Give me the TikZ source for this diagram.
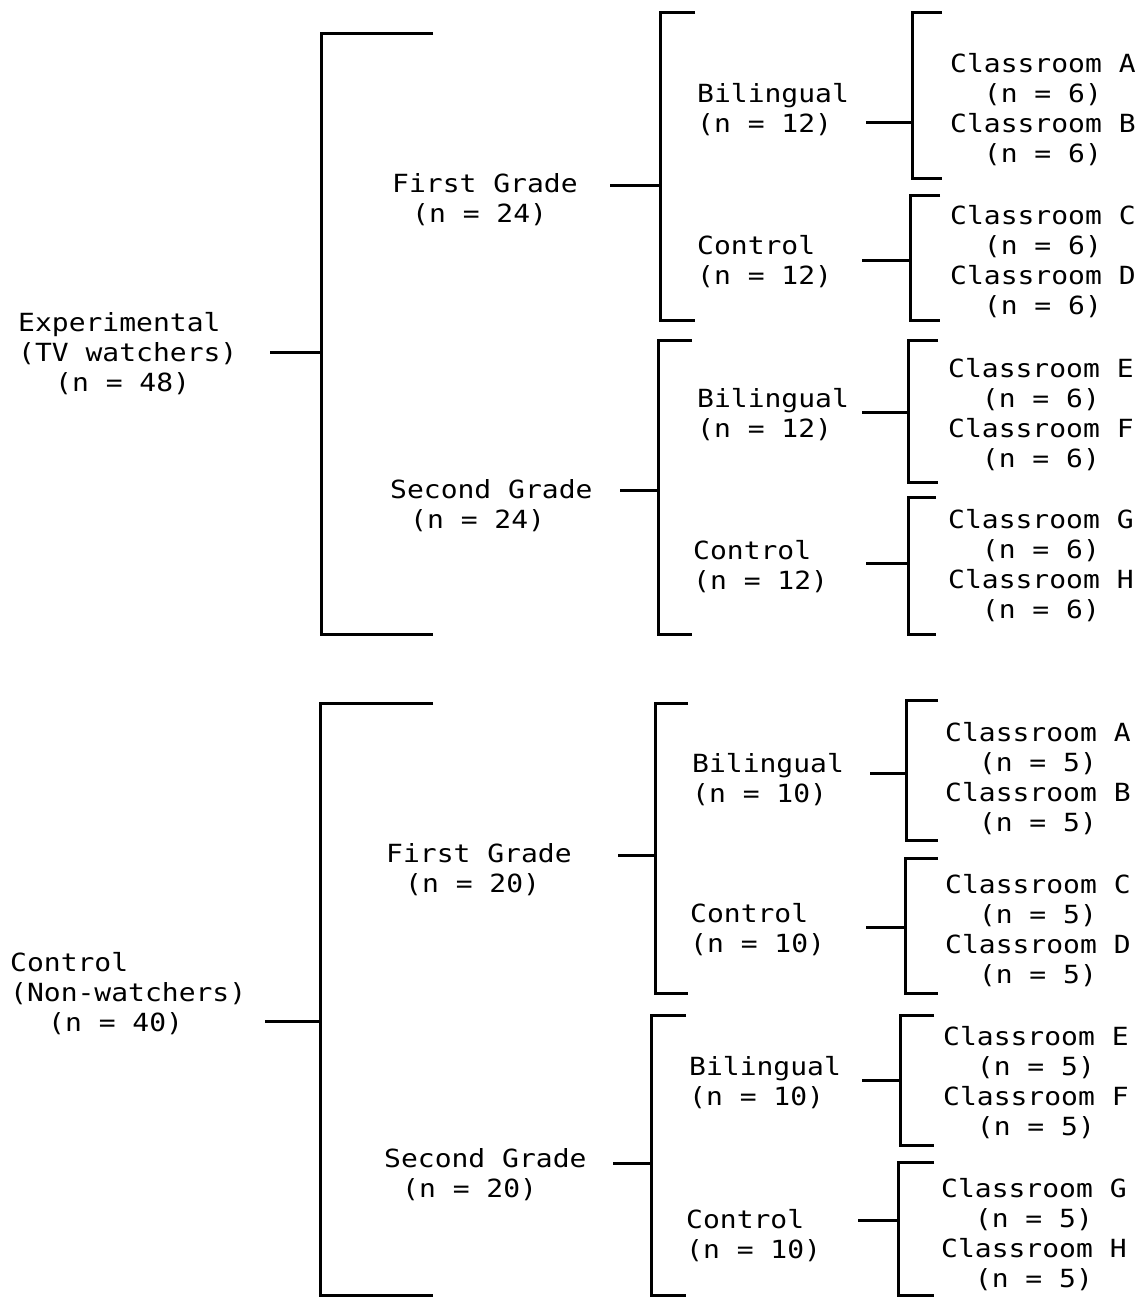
\documentclass[tikz,border=0pt]{standalone}
\usepackage{fontspec}
\newfontfamily\plotfont[FakeStretch=1.12]{DejaVu Sans Mono}
\newcommand\drawbracket[4]{\draw[brkline] (#4,#2) -- (#1,#2) -- (#1,#3) -- (#4,#3);}
\begin{document}
\begin{tikzpicture}[x=1pt,y=-1pt,
  lbl/.style={font=\plotfont\fontsize{25}{30}\selectfont, align=left, inner sep=0pt, anchor=west},
  cls/.style={lbl, align=center},
  brkline/.style={line width=3pt, line join=miter},
  stem/.style={line width=3pt}]
\useasboundingbox[fill=white] (0,0) rectangle (1143,1299);

% ===================== Experimental group =====================
\node[lbl] (exp) at (18,354) {Experimental\\(TV watchers)\\\hspace*{37pt}(n = 48)};
\node[lbl] (fg1) at (392,200) {First Grade\\\hspace*{20pt}(n = 24)};
\node[lbl] (sg1) at (390,506) {Second Grade\\\hspace*{20pt}(n = 24)};
\node[lbl] (bil1) at (697,110) {Bilingual\\(n = 12)};
\node[lbl] (con1) at (697,262) {Control\\(n = 12)};
\node[lbl] (bil2) at (697,415) {Bilingual\\(n = 12)};
\node[lbl] (con2) at (693,567) {Control\\(n = 12)};
\node[cls] (cAB1) at (950,110) {Classroom A\\(n = 6)\\Classroom B\\(n = 6)};
\node[cls] (cCD1) at (950,262) {Classroom C\\(n = 6)\\Classroom D\\(n = 6)};
\node[cls] (cEF1) at (948,415) {Classroom E\\(n = 6)\\Classroom F\\(n = 6)};
\node[cls] (cGH1) at (948,566) {Classroom G\\(n = 6)\\Classroom H\\(n = 6)};

\drawbracket{321}{33}{634}{433}
\drawbracket{660}{12}{320}{695}
\drawbracket{658}{340}{634}{692}
\drawbracket{912}{12}{178}{942}
\drawbracket{910}{195}{320}{940}
\drawbracket{908}{340}{482}{938}
\drawbracket{908}{497}{634}{936}

\coordinate (s-exp) at (270,352);  \coordinate (j-exp) at (321,352);
\coordinate (s-fg1) at (610,185);  \coordinate (j-fg1) at (660,185);
\coordinate (s-sg1) at (620,490);  \coordinate (j-sg1) at (658,490);
\coordinate (s-bil1) at (866,122); \coordinate (j-bil1) at (912,122);
\coordinate (s-con1) at (862,260); \coordinate (j-con1) at (910,260);
\coordinate (s-bil2) at (862,412); \coordinate (j-bil2) at (908,412);
\coordinate (s-con2) at (866,563); \coordinate (j-con2) at (908,563);
\foreach \n in {exp,fg1,sg1,bil1,con1,bil2,con2} \draw[stem] (s-\n) -- (j-\n);

% ===================== Control group =====================
\node[lbl] (ctl) at (10,994) {Control\\(Non-watchers)\\\hspace*{38pt}(n = 40)};
\node[lbl] (fg2) at (386,870) {First Grade\\\hspace*{19pt}(n = 20)};
\node[lbl] (sg2) at (384,1175) {Second Grade\\\hspace*{18pt}(n = 20)};
\node[lbl] (bil3) at (692,780) {Bilingual\\(n = 10)};
\node[lbl] (con3) at (690,930) {Control\\(n = 10)};
\node[lbl] (bil4) at (689,1083) {Bilingual\\(n = 10)};
\node[lbl] (con4) at (686,1236) {Control\\(n = 10)};
\node[cls] (cAB2) at (945,779) {Classroom A\\(n = 5)\\Classroom B\\(n = 5)};
\node[cls] (cCD2) at (945,931) {Classroom C\\(n = 5)\\Classroom D\\(n = 5)};
\node[cls] (cEF2) at (943,1083) {Classroom E\\(n = 5)\\Classroom F\\(n = 5)};
\node[cls] (cGH2) at (941,1235) {Classroom G\\(n = 5)\\Classroom H\\(n = 5)};

\drawbracket{320}{703}{1295}{433}
\drawbracket{655}{703}{993}{688}
\drawbracket{651}{1015}{1295}{686}
\drawbracket{906}{700}{840}{938}
\drawbracket{905}{858}{993}{938}
\drawbracket{900}{1015}{1145}{934}
\drawbracket{898}{1162}{1295}{934}

\coordinate (s-ctl) at (265,1021);  \coordinate (j-ctl) at (320,1021);
\coordinate (s-fg2) at (618,855);   \coordinate (j-fg2) at (655,855);
\coordinate (s-sg2) at (613,1163);  \coordinate (j-sg2) at (651,1163);
\coordinate (s-bil3) at (870,773);  \coordinate (j-bil3) at (906,773);
\coordinate (s-con3) at (866,927);  \coordinate (j-con3) at (905,927);
\coordinate (s-bil4) at (862,1080); \coordinate (j-bil4) at (900,1080);
\coordinate (s-con4) at (858,1220); \coordinate (j-con4) at (898,1220);
\foreach \n in {ctl,fg2,sg2,bil3,con3,bil4,con4} \draw[stem] (s-\n) -- (j-\n);
\end{tikzpicture}
\end{document}
